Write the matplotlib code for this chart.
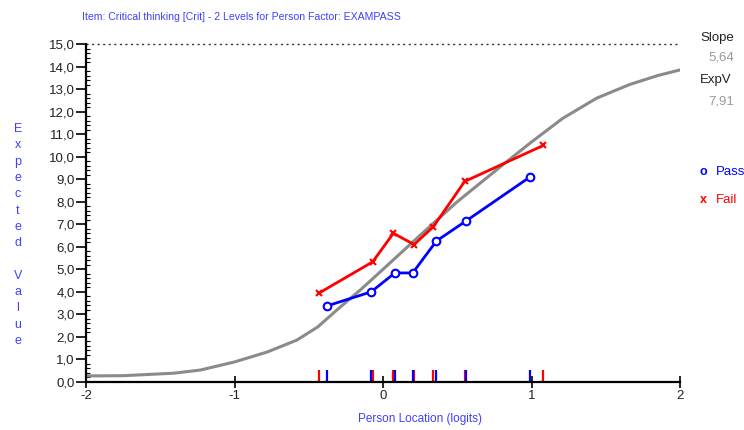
import matplotlib
matplotlib.use("Agg")
import matplotlib.pyplot as plt
from matplotlib.ticker import MultipleLocator, FuncFormatter

plt.rcParams['font.family'] = ['Liberation Sans', 'DejaVu Sans']

# Expected value curve
curve_x = [-2.0, -1.75, -1.41, -1.23, -1.0, -0.78, -0.58, -0.44, -0.31, -0.15, 0.0, 0.215, 0.5, 0.79, 0.99, 1.21, 1.44, 1.66, 1.85, 2.0]
curve_y = [0.27, 0.28, 0.39, 0.53, 0.89, 1.33, 1.86, 2.44, 3.20, 4.10, 5.00, 6.30, 8.00, 9.55, 10.60, 11.70, 12.60, 13.20, 13.60, 13.85]

# Observed class means
pass_x = [-0.38, -0.08, 0.08, 0.20, 0.36, 0.56, 0.99]
pass_y = [3.37, 4.00, 4.84, 4.84, 6.26, 7.15, 9.10]
fail_x = [-0.43, -0.07, 0.07, 0.21, 0.34, 0.55, 1.08]
fail_y = [3.95, 5.33, 6.60, 6.10, 6.90, 8.90, 10.50]

slope_text = "5,64"
expv_text = "7,91"
title = "Item: Critical thinking [Crit] - 2 Levels for Person Factor: EXAMPASS"

blue = "#0000ff"
red = "#ff0000"
label_blue = "#4040ff"

fig = plt.figure(figsize=(7.44, 4.30), dpi=100)
ax = fig.add_axes([86/744, 1-382/430, (680-86)/744, (382-44)/430])
ax.set_xlim(-2, 2)
ax.set_ylim(0, 15)

ax.plot([-2, 2], [15, 15], linestyle=(0, (1.5, 2.5)), color="#333333", lw=1.0, clip_on=False)
ax.plot(curve_x, curve_y, color="#8a8a8a", lw=2.2, solid_capstyle='round', solid_joinstyle='round')
ax.plot(fail_x, fail_y, color=red, lw=2, marker='x', ms=5, mew=1.5)
ax.plot(pass_x, pass_y, color=blue, lw=2, marker='o', ms=5.5, mfc='white', mew=1.5)

ax.vlines(fail_x, 0.05, 0.55, colors=red, lw=1.6)
ax.vlines(pass_x, 0.05, 0.55, colors=blue, lw=1.6)

for s in ['top', 'right']:
    ax.spines[s].set_visible(False)
ax.spines['left'].set_linewidth(1.6)
ax.spines['bottom'].set_linewidth(1.6)

ax.yaxis.set_major_locator(MultipleLocator(1))
ax.yaxis.set_minor_locator(MultipleLocator(0.2))
ax.yaxis.set_major_formatter(FuncFormatter(lambda v, p: f"{v:.1f}".replace('.', ',')))
ax.xaxis.set_major_locator(MultipleLocator(1))
ax.xaxis.set_major_formatter(FuncFormatter(lambda v, p: f"{int(round(v))}"))
ax.tick_params(axis='y', which='major', direction='out', length=7, width=1.2, labelsize=9.5, colors='black', labelcolor='#222222', pad=1)
ax.tick_params(axis='y', which='minor', direction='in', length=3, width=0.8)
ax.tick_params(axis='x', which='major', direction='inout', length=8, width=1.2, labelsize=9.5, labelcolor='#222222', pad=2)

fig.text(82/744, 1-17/430, title, color=label_blue, fontsize=7.6, ha='left', va='center')
fig.text(420/744, 1-419/430, "Person Location (logits)", color=label_blue, fontsize=8.5, ha='center', va='center')

ylab = "Expected Value"
fig.text(18/744, 1-235/430, "\n".join(list(ylab)), color=label_blue, fontsize=9, ha='center', va='center', linespacing=1.48)

fig.text(700/744, 1-38/430, "Slope", color='#222222', fontsize=9.5, ha='left', va='center')
fig.text(708/744, 1-58/430, slope_text, color='#999999', fontsize=9.5, ha='left', va='center')
fig.text(700/744, 1-80/430, "ExpV", color='#222222', fontsize=9.5, ha='left', va='center')
fig.text(708/744, 1-101/430, expv_text, color='#999999', fontsize=9.5, ha='left', va='center')

fig.text(700/744, 1-172/430, "o", color=blue, fontsize=9, ha='left', va='center', fontweight='bold')
fig.text(716/744, 1-172/430, "Pass", color=blue, fontsize=9.5, ha='left', va='center')
fig.text(700/744, 1-200/430, "x", color=red, fontsize=9, ha='left', va='center', fontweight='bold')
fig.text(716/744, 1-200/430, "Fail", color=red, fontsize=9.5, ha='left', va='center')

fig.savefig("out.png", dpi=100)
